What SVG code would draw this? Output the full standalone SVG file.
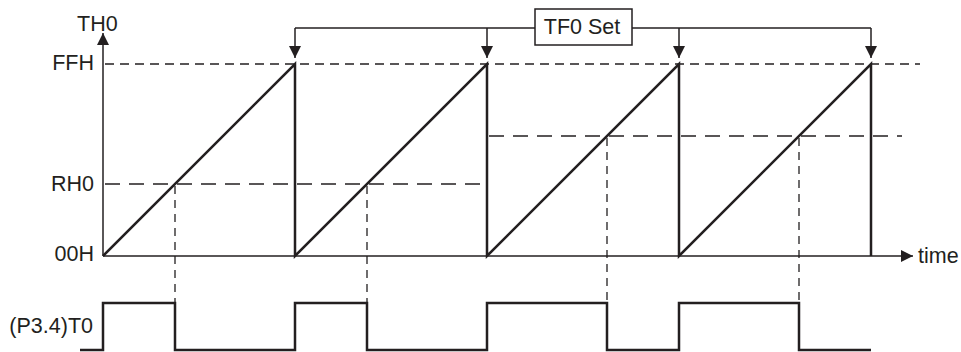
<svg xmlns="http://www.w3.org/2000/svg" width="961" height="352" viewBox="0 0 961 352">
<style>
text{font-family:"Liberation Sans",Arial,sans-serif;font-size:21.5px;fill:#231f20}
.ax{stroke:#231f20;stroke-width:1.5;fill:none}
.saw{stroke:#231f20;stroke-width:2.5;fill:none;stroke-linejoin:miter}
.d1{stroke:#231f20;stroke-width:1.3;stroke-dasharray:9 6;fill:none}
.d2{stroke:#231f20;stroke-width:1.5;stroke-dasharray:15 9;fill:none}
.d3{stroke:#231f20;stroke-width:1.3;stroke-dasharray:8 6;fill:none}
.ar{fill:#231f20}
</style>
<defs>
<marker id="ah" viewBox="0 0 12 12" refX="12" refY="6" markerWidth="12" markerHeight="12" markerUnits="userSpaceOnUse" orient="auto"><path d="M0,0 L12,6 L0,12 Z" class="ar"/></marker>
</defs>
<g id="axes">
<line class="ax" x1="103" y1="256" x2="103" y2="33" marker-end="url(#ah)"/>
<line class="ax" x1="103" y1="256" x2="913" y2="256" marker-end="url(#ah)"/>
</g>
<g id="labels">
<text x="77" y="31">TH0</text>
<text x="94" y="70" text-anchor="end">FFH</text>
<text x="94" y="191" text-anchor="end">RH0</text>
<text x="94" y="261" text-anchor="end">00H</text>
<text x="93" y="333" text-anchor="end">(P3.4)T0</text>
<text x="918" y="263">time</text>
</g>
<g id="reference-lines">
<line class="d1" x1="105" y1="64" x2="920" y2="64"/>
<line class="d2" x1="105" y1="184" x2="487" y2="184"/>
<line class="d2" x1="489" y1="136" x2="902" y2="136"/>
<line class="d3" x1="175" y1="186" x2="175" y2="303"/>
<line class="d3" x1="367" y1="186" x2="367" y2="303"/>
<line class="d3" x1="607" y1="138" x2="607" y2="303"/>
<line class="d3" x1="799" y1="138" x2="799" y2="303"/>
</g>
<g id="sawtooth">
<polyline class="saw" points="103,256 295,64 295,256 487,64 487,256 679,64 679,256 871,64 871,256"/>
</g>
<g id="pulse">
<polyline class="saw" points="80,350 103,350 103,303 175,303 175,350 295,350 295,303 367,303 367,350 487,350 487,303 607,303 607,350 679,350 679,303 799,303 799,350 871,350"/>
</g>
<g id="tf0-set">
<rect x="535" y="9" width="97" height="36" fill="#fff" stroke="#231f20" stroke-width="1.5"/>
<text x="582" y="34" text-anchor="middle">TF0 Set</text>
</g>
<g id="connectors" class="ax">
<line x1="295" y1="28" x2="535" y2="28"/>
<line x1="632" y1="28" x2="871" y2="28"/>
<line x1="295" y1="28" x2="295" y2="58" marker-end="url(#ah)"/>
<line x1="487" y1="28" x2="487" y2="58" marker-end="url(#ah)"/>
<line x1="679" y1="28" x2="679" y2="58" marker-end="url(#ah)"/>
<line x1="871" y1="28" x2="871" y2="58" marker-end="url(#ah)"/>
</g>
</svg>
